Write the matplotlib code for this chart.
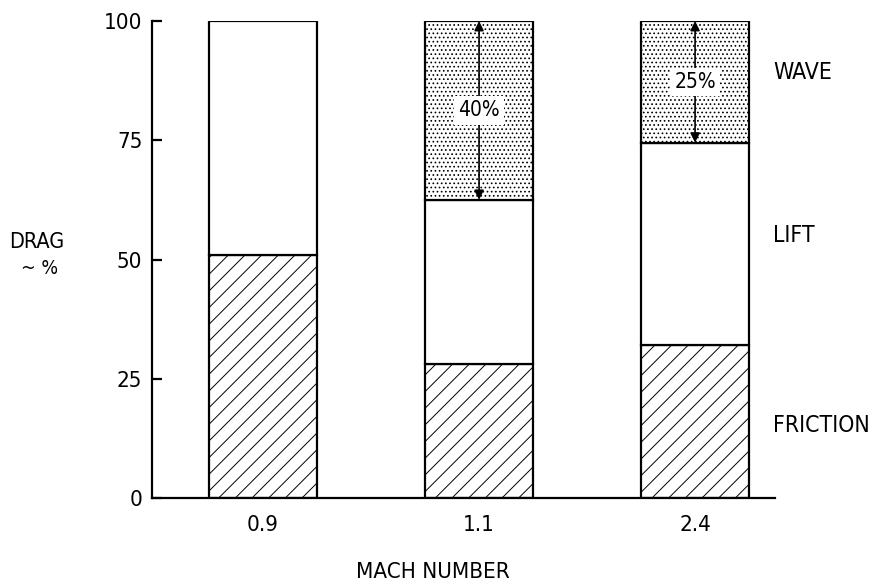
import matplotlib
matplotlib.use('Agg')
import matplotlib.pyplot as plt
import numpy as np

# values (percent of total drag)
mach_labels = ['0.9', '1.1', '2.4']
friction = [51.0, 28.0, 32.0]
lift = [49.0, 34.5, 42.5]
wave = [0.0, 37.5, 25.5]
wave_labels = ['', '40%', '25%']
y_ticks = [0, 25, 50, 75, 100]
segment_names = ['WAVE', 'LIFT', 'FRICTION']
segment_y = [89.3, 55.0, 15.1]

plt.rcParams['font.family'] = ['DejaVu Sans']
plt.rcParams['font.stretch'] = 'condensed'
plt.rcParams['hatch.linewidth'] = 0.7
plt.rcParams['hatch.color'] = '#333333'

fig = plt.figure(figsize=(8.77, 5.88), dpi=100)
ax = fig.add_axes([152 / 877, 90 / 588, (775 - 152) / 877, 477 / 588])

x = np.arange(len(mach_labels))
width = 0.5
fric = np.array(friction)
lif = np.array(lift)
wav = np.array(wave)

ax.bar(x, fric, width, color='white', edgecolor='black', linewidth=1.6, hatch='//')
ax.bar(x, lif, width, bottom=fric, color='white', edgecolor='black', linewidth=1.6)
for i in range(len(x)):
    if wav[i] > 0:
        base = fric[i] + lif[i]
        ax.bar(x[i], wav[i], width, bottom=base, color='white', edgecolor='black',
               linewidth=1.6, hatch='....')
        ax.annotate('', xy=(x[i], base + wav[i]), xytext=(x[i], base),
                    arrowprops=dict(arrowstyle='<|-|>', color='black', lw=1.2,
                                    mutation_scale=14, shrinkA=0, shrinkB=0))
        ax.text(x[i], base + wav[i] / 2, wave_labels[i], ha='center', va='center',
                fontsize=15, bbox=dict(facecolor='white', edgecolor='none', pad=3))

for name, yv in zip(segment_names, segment_y):
    ax.text(2.36, yv, name, ha='left', va='center', fontsize=16.5, clip_on=False)

ax.set_xlim(-0.514, 2.37)
ax.set_ylim(0, 100)
ax.set_yticks(y_ticks)
ax.set_xticks(x)
ax.set_xticklabels(mach_labels)
ax.tick_params(axis='y', direction='in', length=7, width=1.6, pad=7, labelsize=16)
ax.tick_params(axis='x', length=0, pad=12, labelsize=16)

for side in ['top', 'right']:
    ax.spines[side].set_visible(False)
for side in ['left', 'bottom']:
    ax.spines[side].set_linewidth(1.6)

fig.text(37 / 877, 1 - 242 / 588, 'DRAG', ha='center', va='center', fontsize=15.5)
fig.text(40 / 877, 1 - 269 / 588, '~ %', ha='center', va='center', fontsize=14)
fig.text(433 / 877, 1 - 572 / 588, 'MACH NUMBER', ha='center', va='center', fontsize=16)

fig.savefig('out.png', dpi=100)
